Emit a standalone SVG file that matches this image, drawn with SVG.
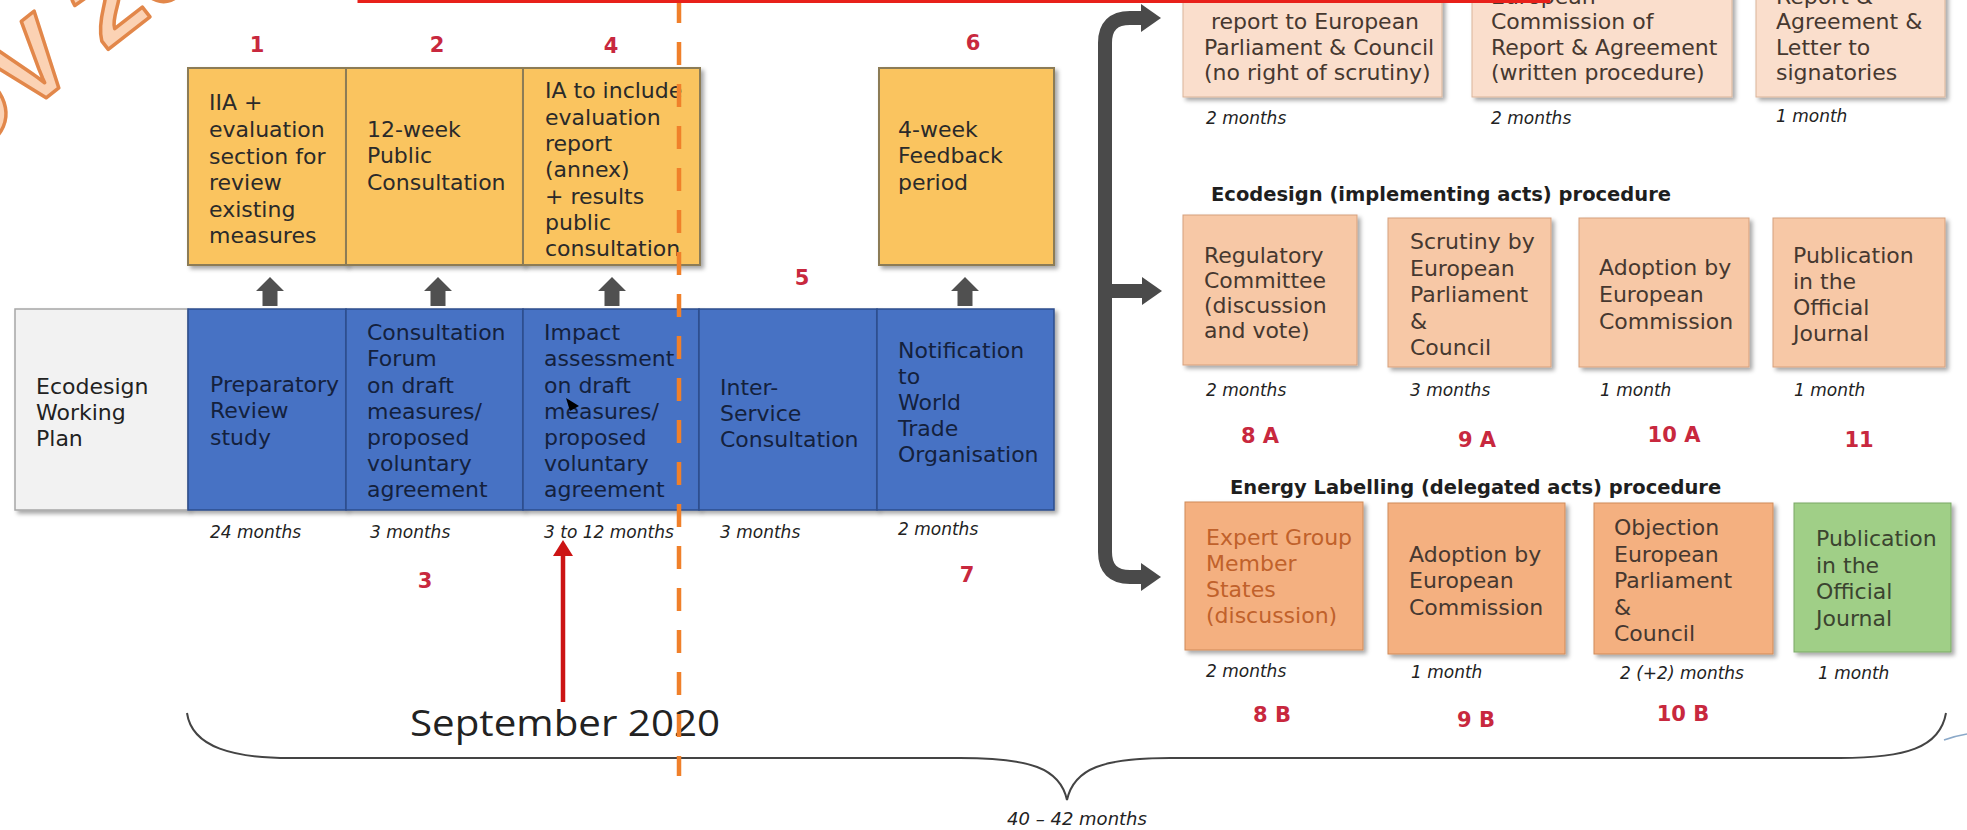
<svg xmlns="http://www.w3.org/2000/svg" width="1967" height="830" viewBox="0 0 1967 830">
<defs>
<filter id="sh" x="-10%" y="-10%" width="130%" height="130%"><feDropShadow dx="3" dy="3" stdDeviation="2" flood-color="#000" flood-opacity="0.35"/></filter>
<path id="up" d="M0,0 L14,14 L7.5,14 L7.5,29 L-7.5,29 L-7.5,14 L-14,14 Z"/>
<marker id="bh" markerUnits="userSpaceOnUse" markerWidth="40" markerHeight="40" refX="0" refY="0" orient="auto" overflow="visible"><path d="M-1,-14 L19,0 L-1,14 Z" fill="#4a4a4a"/></marker>
<marker id="rh" markerUnits="userSpaceOnUse" markerWidth="30" markerHeight="30" refX="0" refY="0" orient="auto" overflow="visible"><path d="M-2,-10 L14,0 L-2,10 Z" fill="#cc1414"/></marker>
</defs>
<style>
.t{font-family:"DejaVu Sans",Verdana,sans-serif;font-size:22px}
.yt{fill:#2a2a2a}
.bt{fill:#14213d}
.gt{fill:#222}
.pt{fill:#463830}
.ot{fill:#c0612b}
.grt{fill:#3b4430}
.d{font-family:"DejaVu Sans",Verdana,sans-serif;font-size:17px;font-style:italic;fill:#222}
.n{font-family:"DejaVu Sans",Verdana,sans-serif;font-size:21px;font-weight:bold;fill:#c8283e;text-anchor:middle}
.h{font-family:"DejaVu Sans",Verdana,sans-serif;font-size:19.5px;font-weight:bold;fill:#1e1e1e}
.yb{fill:#fac45e;stroke:#8c7b56;stroke-width:2;filter:url(#sh)}
.bb{fill:#4672c4;stroke:#2d4e8c;stroke-width:1.5;filter:url(#sh)}
.gb{fill:#f2f2f2;stroke:#a6a6a6;stroke-width:1.5;filter:url(#sh)}
.lp{fill:#fadecc;stroke:#d9b49a;stroke-width:1;filter:url(#sh)}
.mp{fill:#f7c8a6;stroke:#d6a07c;stroke-width:1;filter:url(#sh)}
.ob{fill:#f4b080;stroke:#d08a58;stroke-width:1;filter:url(#sh)}
.grb{fill:#a0cf87;stroke:#7aa866;stroke-width:1;filter:url(#sh)}
.arm{fill:none;stroke:#4a4a4a;stroke-width:14}
</style>
<rect width="1967" height="830" fill="#ffffff"/>

<g id="watermark">
<text transform="translate(-106.6,217.2) rotate(-38)" font-family="Liberation Sans, sans-serif" font-weight="bold" font-size="110" fill="#fbd2b4" stroke="#e2874a" stroke-width="3.5" stroke-linejoin="round">NOV 2020</text>
</g>

<!-- yellow boxes -->
<g id="y1"><rect class="yb" x="188" y="68" width="158" height="197"/>
<text class="t yt"><tspan x="209" y="110">IIA +</tspan><tspan x="209" y="137">evaluation</tspan><tspan x="209" y="164">section for</tspan><tspan x="209" y="190">review</tspan><tspan x="209" y="217">existing</tspan><tspan x="209" y="243">measures</tspan></text></g>
<g id="y2"><rect class="yb" x="346" y="68" width="177" height="197"/>
<text class="t yt"><tspan x="367" y="137">12-week</tspan><tspan x="367" y="163">Public</tspan><tspan x="367" y="190">Consultation</tspan></text></g>
<g id="y4"><rect class="yb" x="523" y="68" width="177" height="197"/>
<text class="t yt"><tspan x="545" y="98">IA to include</tspan><tspan x="545" y="124.5">evaluation</tspan><tspan x="545" y="151">report</tspan><tspan x="545" y="177">(annex)</tspan><tspan x="545" y="203.5">+ results</tspan><tspan x="545" y="230">public</tspan><tspan x="545" y="256">consultation</tspan></text></g>
<g id="y6"><rect class="yb" x="879" y="68" width="175" height="197"/>
<text class="t yt"><tspan x="898" y="137">4-week</tspan><tspan x="898" y="163">Feedback</tspan><tspan x="898" y="190">period</tspan></text></g>

<!-- blue chain -->
<g id="plan"><rect class="gb" x="15" y="309" width="173" height="201"/>
<text class="t gt"><tspan x="36" y="394">Ecodesign</tspan><tspan x="36" y="420">Working</tspan><tspan x="36" y="446">Plan</tspan></text></g>
<g id="prep"><rect class="bb" x="188" y="309" width="158" height="201"/>
<text class="t bt"><tspan x="210" y="392">Preparatory</tspan><tspan x="210" y="418">Review</tspan><tspan x="210" y="445">study</tspan></text></g>
<g id="forum"><rect class="bb" x="346" y="309" width="177" height="201"/>
<text class="t bt"><tspan x="367" y="340">Consultation</tspan><tspan x="367" y="366">Forum</tspan><tspan x="367" y="392.5">on draft</tspan><tspan x="367" y="419">measures/</tspan><tspan x="367" y="445">proposed</tspan><tspan x="367" y="471">voluntary</tspan><tspan x="367" y="497">agreement</tspan></text></g>
<g id="impact"><rect class="bb" x="523" y="309" width="176" height="201"/>
<text class="t bt"><tspan x="544" y="340">Impact</tspan><tspan x="544" y="366">assessment</tspan><tspan x="544" y="392.5">on draft</tspan><tspan x="544" y="419">measures/</tspan><tspan x="544" y="445">proposed</tspan><tspan x="544" y="471">voluntary</tspan><tspan x="544" y="497">agreement</tspan></text>
<polygon points="566,398 579,406 570,411" fill="#000"/></g>
<g id="isc"><rect class="bb" x="699" y="309" width="178" height="201"/>
<text class="t bt"><tspan x="720" y="395">Inter-</tspan><tspan x="720" y="421">Service</tspan><tspan x="720" y="447">Consultation</tspan></text></g>
<g id="wto"><rect class="bb" x="877" y="309" width="177" height="201"/>
<text class="t bt"><tspan x="898" y="358">Notification</tspan><tspan x="898" y="384">to</tspan><tspan x="898" y="410">World</tspan><tspan x="898" y="436">Trade</tspan><tspan x="898" y="462">Organisation</tspan></text></g>

<!-- durations left -->
<g id="durations-left">
<text class="d" x="210" y="538">24 months</text>
<text class="d" x="370" y="538">3 months</text>
<text class="d" x="544" y="538">3 to 12 months</text>
<text class="d" x="720" y="538">3 months</text>
<text class="d" x="898" y="535">2 months</text>
</g>

<!-- step numbers left -->
<g id="numbers-left">
<text class="n" x="257" y="52">1</text>
<text class="n" x="437" y="52">2</text>
<text class="n" x="611" y="53">4</text>
<text class="n" x="973" y="50">6</text>
<text class="n" x="802" y="285">5</text>
<text class="n" x="425" y="588">3</text>
<text class="n" x="967" y="582">7</text>
</g>

<!-- right top row -->
<g id="r1a"><rect class="lp" x="1183" y="-20" width="259" height="117"/>
<text class="t pt"><tspan x="1211" y="29">report to European</tspan><tspan x="1204" y="54.5">Parliament &amp; Council</tspan><tspan x="1204" y="80">(no right of scrutiny)</tspan></text></g>
<g id="r1b"><rect class="lp" x="1472" y="-20" width="260" height="117"/>
<text class="t pt"><tspan x="1491" y="3.5">European</tspan><tspan x="1491" y="29">Commission of</tspan><tspan x="1491" y="54.5">Report &amp; Agreement</tspan><tspan x="1491" y="80">(written procedure)</tspan></text></g>
<g id="r1c"><rect class="lp" x="1756" y="-20" width="189" height="117"/>
<text class="t pt"><tspan x="1776" y="3.5">Report &amp;</tspan><tspan x="1776" y="29">Agreement &amp;</tspan><tspan x="1776" y="54.5">Letter to</tspan><tspan x="1776" y="80">signatories</tspan></text></g>
<g id="durations-r1">
<text class="d" x="1206" y="124">2 months</text>
<text class="d" x="1491" y="124">2 months</text>
<text class="d" x="1776" y="122">1 month</text>
</g>

<!-- ecodesign row -->
<text class="h" x="1211" y="201">Ecodesign (implementing acts) procedure</text>
<g id="n8a"><rect class="mp" x="1183" y="215" width="174" height="150"/>
<text class="t pt"><tspan x="1204" y="263">Regulatory</tspan><tspan x="1204" y="288">Committee</tspan><tspan x="1204" y="313">(discussion</tspan><tspan x="1204" y="338">and vote)</tspan></text></g>
<g id="n9a"><rect class="mp" x="1388" y="218" width="163" height="149"/>
<text class="t pt"><tspan x="1410" y="249">Scrutiny by</tspan><tspan x="1410" y="275.5">European</tspan><tspan x="1410" y="302">Parliament</tspan><tspan x="1410" y="328.5">&amp;</tspan><tspan x="1410" y="355">Council</tspan></text></g>
<g id="n10a"><rect class="mp" x="1579" y="218" width="170" height="149"/>
<text class="t pt"><tspan x="1599" y="275">Adoption by</tspan><tspan x="1599" y="302">European</tspan><tspan x="1599" y="329">Commission</tspan></text></g>
<g id="n11"><rect class="mp" x="1773" y="218" width="172" height="149"/>
<text class="t pt"><tspan x="1793" y="263">Publication</tspan><tspan x="1793" y="289">in the</tspan><tspan x="1793" y="315">Official</tspan><tspan x="1793" y="341">Journal</tspan></text></g>
<g id="durations-r2">
<text class="d" x="1206" y="396">2 months</text>
<text class="d" x="1410" y="396">3 months</text>
<text class="d" x="1600" y="396">1 month</text>
<text class="d" x="1794" y="396">1 month</text>
</g>
<g id="numbers-r2">
<text class="n" x="1260" y="443">8 A</text>
<text class="n" x="1477" y="447">9 A</text>
<text class="n" x="1674" y="442">10 A</text>
<text class="n" x="1859" y="447">11</text>
</g>

<!-- energy labelling row -->
<text class="h" x="1230" y="494">Energy Labelling (delegated acts) procedure</text>
<g id="n8b"><rect class="ob" x="1185" y="502" width="178" height="148"/>
<text class="t ot"><tspan x="1206" y="545">Expert Group</tspan><tspan x="1206" y="571">Member</tspan><tspan x="1206" y="597">States</tspan><tspan x="1206" y="623">(discussion)</tspan></text></g>
<g id="n9b"><rect class="ob" x="1388" y="503" width="177" height="151"/>
<text class="t pt"><tspan x="1409" y="562">Adoption by</tspan><tspan x="1409" y="588">European</tspan><tspan x="1409" y="615">Commission</tspan></text></g>
<g id="n10b"><rect class="ob" x="1594" y="503" width="179" height="151"/>
<text class="t pt"><tspan x="1614" y="535">Objection</tspan><tspan x="1614" y="561.5">European</tspan><tspan x="1614" y="588">Parliament</tspan><tspan x="1614" y="614.5">&amp;</tspan><tspan x="1614" y="641">Council</tspan></text></g>
<g id="n11b"><rect class="grb" x="1794" y="503" width="157" height="149"/>
<text class="t grt"><tspan x="1816" y="546">Publication</tspan><tspan x="1816" y="573">in the</tspan><tspan x="1816" y="599">Official</tspan><tspan x="1816" y="626">Journal</tspan></text></g>
<g id="durations-r3">
<text class="d" x="1206" y="677">2 months</text>
<text class="d" x="1411" y="678">1 month</text>
<text class="d" x="1620" y="679">2 (+2) months</text>
<text class="d" x="1818" y="679">1 month</text>
</g>
<g id="numbers-r3">
<text class="n" x="1272" y="722">8 B</text>
<text class="n" x="1476" y="727">9 B</text>
<text class="n" x="1683" y="721">10 B</text>
</g>

<!-- connectors -->
<g id="connectors">
<use href="#up" x="270" y="277" fill="#505050"/>
<use href="#up" x="438" y="277" fill="#505050"/>
<use href="#up" x="612" y="277" fill="#505050"/>
<use href="#up" x="965" y="277" fill="#505050"/>
<path class="arm" d="M1105,300 L1105,43 Q1105,18 1130,18 L1142,18" marker-end="url(#bh)"/>
<path class="arm" d="M1105,291 L1143,291" marker-end="url(#bh)"/>
<path class="arm" d="M1105,280 L1105,552 Q1105,577 1130,577 L1142,577" marker-end="url(#bh)"/>
<path d="M187,713 C192,748 235,758 290,758 L960,758 C1030,758 1060,768 1067,800 C1074,768 1104,758 1170,758 L1840,758 C1905,758 1940,748 1946,713" fill="none" stroke="#444" stroke-width="2"/>
<path d="M1944,740 Q1955,736 1967,734" fill="none" stroke="#8aa8c8" stroke-width="1.5"/>
</g>

<text x="1077" y="825" text-anchor="middle" font-family="DejaVu Sans, sans-serif" font-size="18" font-style="italic" fill="#222">40 – 42 months</text>
<text x="565" y="736" text-anchor="middle" font-family="Open Sans, sans-serif" font-size="36" fill="#222" textLength="310" lengthAdjust="spacingAndGlyphs">September 2020</text>

<!-- overlays -->
<g id="overlays">
<line x1="679" y1="0" x2="679" y2="776" stroke="#f0802a" stroke-width="4.5" stroke-dasharray="23 19"/>
<line x1="563" y1="702" x2="563" y2="554" stroke="#cc1414" stroke-width="4.5" marker-end="url(#rh)"/>
<rect x="359" y="-20" width="1190" height="21.5" fill="none" stroke="#e8201a" stroke-width="3"/>
</g>
</svg>
